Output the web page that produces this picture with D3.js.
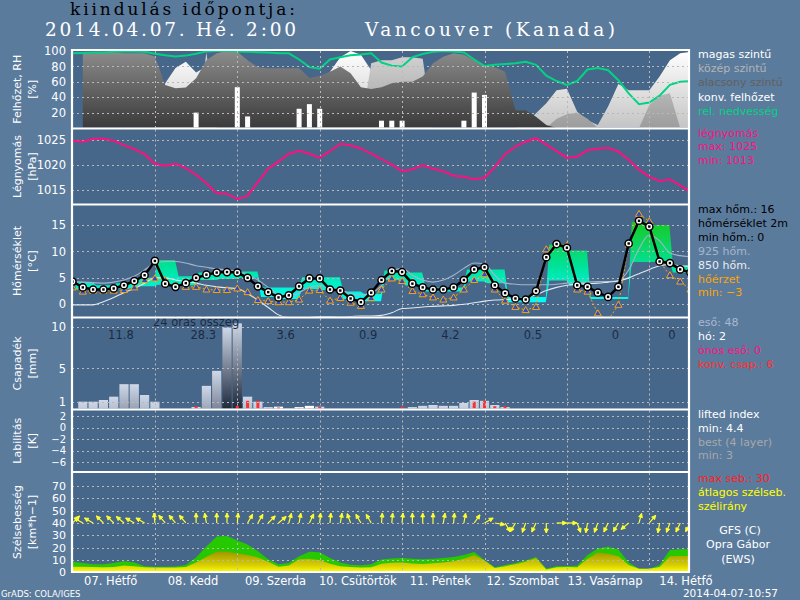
<!DOCTYPE html>
<html><head><meta charset="utf-8">
<script src="https://cdn.jsdelivr.net/npm/d3@7"></script>
<style>body{margin:0;background:#5b7b9d}svg{display:block}</style>
</head><body><svg id="c" width="800" height="600"></svg>
<script>
// ---------------- DATA (3-hourly steps, index 0..60) ----------------
const dayLabels = ["07. Hétfő","08. Kedd","09. Szerda","10. Csütörtök","11. Péntek","12. Szombat","13. Vasárnap","14. Hétfő"];
const cloudLow = [null,97,97,98,98,97,97,97,93,56,51.5,52.5,64.5,88,97,100,99,88,79,77.5,77.5,77.5,77.5,65,67.5,73,80,71,53,50.5,53,58,60,60,67,84,92.6,97,95,88,82,79,73,23,23,14.7,4,0,0,0,0,0,0,0,0,0,0,0,0,0,0];
const cloudMid = [0,0,0,0,0,0,0,0,0,0,0,0,0,98,0,0,0,0,0,0,0,0,0,0,0,0,0,0,0,84,88,88,92,92,90,0,0,0,0,0,0,0,0,0,0,0,0,12,18,20,12,0,0,0,0,0,30,42,45,0,0];
const cloudHigh = [0,0,0,0,0,0,0,0,0,58,78,86,72,80,0,0,0,0,0,0,0,0,0,0,0,73,92,100,95,75,0,0,0,0,0,0,0,0,0,0,0,0,0,0,5,19,32,49,51,21,10,4,28,57,49,49,49,67,88,97,99];
const cloudConv = [0,0,0,0,0,0,0,0,0,0,0,0,20,0,0,0,53,15,0,0,0,0,25,31,25,0,0,0,0,0,9.5,9.5,9.5,0,0,0,0,0,9.5,46,43,0,0,0,0,0,0,0,0,0,0,0,0,0,0,0,0,0,0,0,0];
const relHum = [97,97.5,98,98,99,99.5,99.5,99,96.5,94.5,93,94,96.5,99.5,100,100,99.5,99,98.5,98,97,97,89,79,77,89,92,94.5,95.5,97,85,81,80,92,96,99,100,99.5,98,89,80.5,82,83,84,86,82,68,61,56,61,76,78,75,62,45,31,33,42,56,60,61];
const pressure = [1024.8,1024.6,1025.2,1025.2,1024.8,1023.9,1023.1,1022.1,1020.2,1019.8,1020.2,1019.3,1018,1016.3,1014.3,1014.2,1013.1,1013.8,1016.5,1019.2,1020.6,1022.2,1022.8,1022.2,1021.4,1022.7,1024.2,1023.9,1023.2,1022.2,1021.1,1020,1018.7,1019.1,1019.9,1019.2,1018.7,1017.8,1017.6,1017.1,1017.4,1019.5,1022.1,1023.6,1024.6,1025.3,1024,1022.7,1021.4,1021.6,1022.9,1023.2,1023.4,1022.6,1021,1019,1017.6,1016.7,1017.1,1015.8,1014.6];
const temp2m = [4.3,3.2,2.8,2.8,3.0,3.6,4.4,5.5,8.2,3.9,3.3,4.0,5.0,5.6,6.0,6.1,6.0,5.0,3.4,2.3,1.3,1.7,3.4,4.9,4.9,2.8,2.6,1.1,0.4,2.2,4.6,6.3,6.1,3.9,3.2,2.8,2.8,3.2,4.6,6.6,7.0,3.6,2.1,1.1,0.9,2.5,8.9,11.4,10.7,3.6,3.3,2.2,1.4,3.3,11.5,15.8,14.7,8.1,7.8,6.6,6.0];
const feelsLike = [3.2,2.4,2.6,2.6,2.6,2.7,3.2,4.6,4.9,4.6,3.5,3.3,3.3,2.8,2.7,2.7,3.0,2.3,0.8,0.6,0.4,0.4,0.9,2.6,2.7,0.7,1.2,0.3,-0.3,1.2,2.8,4.9,4.4,2.5,1.9,1.3,0.9,1.3,2.8,4.6,5.7,2.8,0.7,-0.5,-1.1,-0.5,10.4,11.4,11.1,2.8,2.4,-1.7,-3.0,-0.1,11.3,17.1,15.7,8.1,5.5,4.3,2.8];
const temp925 = [4.3,4.2,4.1,4.0,4.2,4.6,5.3,6.5,7.8,8.1,8.1,7.8,7.3,7.0,6.7,6.5,6.3,5.5,4.6,3.2,1.8,1.3,2.2,3.2,3.5,3.2,2.8,2.0,1.8,2.1,3.6,6.2,6.8,5.5,4.6,4.2,4.6,5.5,6.8,7.8,7.6,5.5,4.0,3.8,3.7,3.7,3.7,3.8,4.0,4.1,4.2,4.3,4.3,4.5,6.5,10.5,13.1,12,9.7,9.2,9.0];
const temp850 = [-0.1,-0.1,-0.1,0.5,1.3,2.2,3.0,4.0,5.0,5.0,4.6,4.3,4.0,3.6,3.3,3.1,3.0,2.0,0.8,-0.6,-2.0,-2.5,-2.6,-2.5,-2.3,-2.3,-2.4,-2.3,-2.2,-2.2,-2.1,-1.6,-0.8,-0.7,-0.5,-0.4,-0.3,-0.2,0.0,0.3,0.6,0.8,0.9,1.0,1.2,1.8,2.6,3.2,3.6,3.8,3.9,4.0,4.2,4.4,5.0,5.8,6.6,7.3,7.5,7.3,7.2];
const tMax6 = [4.2,3.6,4.0,5.0,8.4,5.3,6.0,6.2,6.2,3.2,3.2,5.1,5.1,2.4,2.0,6.4,6.0,3.2,3.2,6.6,6.6,1.4,1.4,11.3,10.2,1.4,1.4,15.6,15.0,7.3];
const tMin6 = [2.9,2.7,3.0,3.4,3.7,3.6,4.6,4.8,5.0,1.4,1.0,2.9,2.7,1.0,0.6,4.6,3.6,2.4,2.4,4.3,4.0,0.4,0.4,4.5,3.5,1.0,1.0,8.0,8.0,6.0];
const rain = [0,1.0,1.0,1.2,1.6,3.1,3.1,1.8,1.0,0,0,0,0.36,2.9,4.7,9.9,10.4,1.6,1.0,0.35,0,0.2,0,0,0.4,0.15,0.15,0.15,0.15,0.15,0.15,0.15,0.15,0.35,0.5,0.6,0.5,0.5,0.85,1.2,1.1,0.6,0.35,0,0,0,0,0,0,0,0,0,0,0,0,0,0,0,0,0,0];
const snow = [0,0,0,0,0,0,0,0,0,0,0,0,0,0,0,0,0,0,0,0,0.4,0,0.35,0.5,0,0,0,0,0,0,0,0,0,0,0,0,0,0,0,0,0,0,0,0,0,0,0,0,0,0,0,0,0,0,0,0,0,0,0,0,0];
const convPrecip = [0,0,0,0,0,0,0,0,0,0,0,0,0.45,0,0,0,0.5,1.1,1.1,0.25,0.3,0,0.25,0.2,0.4,0,0,0,0,0,0,0,0.4,0,0,0,0,0,0,1.0,1.1,0.45,0.45,0,0,0,0,0,0,0,0,0,0,0,0,0,0,0,0,0,0];
const precipSum24 = ["11.8","28.3","3.6","0.9","4.2","0.5","0","0"];
const windMax = [8.6,7.5,6.5,6.6,7.5,9.0,8.0,5.0,4.6,4.6,4.8,6,12,21,29,29.5,25.7,22.5,17,10.5,6.5,7.5,13,16.7,16.2,11.5,8,6.2,5.8,6.5,10.3,11.2,11.6,11,10.5,11,11.6,12.5,14,16.5,10,4,6,7.5,9.5,12.5,3,4.9,5.1,5.3,14,19.4,20.8,18.5,8,3,2.9,6,18,18.6,18.8];
const windAvg = [4.6,4.5,4.2,4.1,4.3,5.5,5.0,4.0,3.8,3.8,3.9,4.3,8,12.5,16.7,16.7,15.2,14,12,8.5,4.6,5.5,10.5,10.8,10,7,5,4.2,3.8,4,7,7.7,7.9,7.2,6.8,7.4,7.9,9,11,14,9.6,3.5,5,6.5,8.5,11.5,2.3,4.0,4.2,4.0,11,16,15,13,6,2.8,2.9,4.2,13,13.2,13.2];
const windDir = [45,300,300,315,315,310,300,300,355,320,320,320,0,350,0,0,5,30,30,45,50,15,10,25,5,5,10,340,330,330,5,5,5,0,0,0,10,5,10,35,60,100,150,210,200,205,180,90,90,160,190,200,205,210,230,15,40,190,200,205,210];
const cloudTicks = [20,40,60,80,100];
const presTicks = [1015,1020,1025];
const tempTicks = [0,5,10,15];
const precTicks = [1,5,10];
const liTicks = [2,0,-2,-4,-6];
const windTicks = [0,10,20,30,40,50,60,70];

// ---------------- LAYOUT ----------------
const svg = d3.select("#c");
const L = 72, R = 689;
const OUTER = "#5b7b9d", INNER = "#46678a";
const x = d3.scaleLinear().domain([0, 60]).range([72.5, 690.5]);
const idx = d3.range(61);
const P = {
  cloud:{top:50,bot:128.5,y:d3.scaleLinear().domain([0,100]).range([128,51]),ticks:cloudTicks,t1:"Felhőzet, RH",t2:"[%]",fs:11.5},
  pres:{top:128.5,bot:204.5,y:d3.scaleLinear().domain([1015,1025]).range([189.7,139.7]),ticks:presTicks,t1:"Légnyomás",t2:"[hPa]",fs:11.5},
  temp:{top:204.5,bot:317.5,y:d3.scaleLinear().domain([0,15]).range([304.3,225]),ticks:tempTicks,t1:"Hőmérséklet",t2:"[°C]",fs:11.5},
  prec:{top:317.5,bot:409.5,y:d3.scaleLinear().domain([0,10]).range([410,326.7]),ticks:precTicks,t1:"Csapadék",t2:"[mm]",fs:11.5},
  li:{top:409.5,bot:472,y:d3.scaleLinear().domain([-6,2]).range([462.3,416]),ticks:liTicks,t1:"Labilitás",t2:"[K]",fs:10},
  wind:{top:472,bot:572,y:d3.scaleLinear().domain([0,70]).range([572.3,486]),ticks:windTicks,t1:"Szélsebesség",t2:"[km*h−1]",fs:11}
};
const panels = Object.entries(P);

svg.append("rect").attr("width",800).attr("height",600).attr("fill",OUTER);
svg.append("rect").attr("x",L).attr("y",50).attr("width",R-L).attr("height",522).attr("fill",INNER);

const defs = svg.append("defs");
panels.forEach(([k,p])=>{
  defs.append("clipPath").attr("id","clip-"+k).append("rect")
    .attr("x",L+1).attr("y",p.top+1).attr("width",R-L-2).attr("height",p.bot-p.top-2);
});
function grad(id, y1, y2, stops){
  const g = defs.append("linearGradient").attr("id",id).attr("gradientUnits","userSpaceOnUse")
    .attr("x1",0).attr("x2",0).attr("y1",y1).attr("y2",y2);
  stops.forEach(([o,c])=>g.append("stop").attr("offset",o).attr("stop-color",c));
}
grad("gLow", P.cloud.y(0), P.cloud.y(100), [[0,"#3a3a3a"],[1,"#8c8c8c"]]);
grad("gMid", P.cloud.y(0), P.cloud.y(100), [[0,"#9c9c9c"],[1,"#d4d4d4"]]);
grad("gHigh", P.cloud.y(0), P.cloud.y(100), [[0,"#c4c4c4"],[1,"#ffffff"]]);
grad("gBand", P.temp.y(0), P.temp.y(16), [[0,"#00ffff"],[0.45,"#00e29a"],[1,"#18c81e"]]);
grad("gWind", P.wind.y(0), P.wind.y(16), [[0,"#ffff10"],[0.35,"#d8d000"],[1,"#a49a00"]]);

const layer = k => svg.append("g").attr("clip-path","url(#clip-"+k+")");

// ---------- Cloud panel ----------
const gc = layer("cloud");
const cy = P.cloud.y;
const cloudArea = arr => d3.area().defined(i=>arr[i]!=null).x(i=>x(i)).y0(cy(0)).y1(i=>cy(arr[i]))(idx);
gc.append("path").attr("d",cloudArea(cloudHigh)).attr("fill","url(#gHigh)");
gc.append("path").attr("d",cloudArea(cloudMid)).attr("fill","url(#gMid)");
gc.append("path").attr("d",cloudArea(cloudLow)).attr("fill","url(#gLow)");

// ---------- Temperature band ----------
const gt = layer("temp");
const ty = P.temp.y;
const bandPts = [];
tMax6.forEach((v,k)=>{ bandPts.push({t:2*k+0.3,hi:v,lo:tMin6[k]}); bandPts.push({t:2*k+1.95,hi:v,lo:tMin6[k]}); });
gt.append("path").attr("d",d3.area().x(d=>x(d.t)).y0(d=>ty(d.lo)).y1(d=>ty(d.hi))(bandPts)).attr("fill","url(#gBand)");

// ---------- Precip bars ----------
const gp = layer("prec");
const py = P.prec.y;
idx.forEach(i=>{
  const v = rain[i];
  if(v>0){
    const id="pb"+i;
    const g = defs.append("linearGradient").attr("id",id).attr("x1",0).attr("x2",0).attr("y1",0).attr("y2",1);
    g.append("stop").attr("offset",0).attr("stop-color","#cfd8e8");
    g.append("stop").attr("offset",1).attr("stop-color",d3.interpolateRgb("#cfd8e8","#1a2438")(Math.min(1,v/10)));
    gp.append("rect").attr("x",x(i)-4.6).attr("width",9.2).attr("y",py(v)).attr("height",py(0)-py(v)).attr("fill","url(#"+id+")");
  }
  if(snow[i]>0) gp.append("rect").attr("x",x(i)-4.6).attr("width",9.2).attr("y",py(snow[i])).attr("height",py(0)-py(snow[i])).attr("fill","#ffffff");
});
idx.filter(i=>convPrecip[i]>0).forEach(i=>{
  gp.append("rect").attr("x",x(i)-1.5).attr("width",3).attr("y",py(convPrecip[i])).attr("height",py(0)-py(convPrecip[i])).attr("fill","#ff3030");
});

// ---------- Wind areas ----------
const gw = layer("wind");
const wy = P.wind.y;
gw.append("path").attr("d",d3.area().x(i=>x(i)).y0(wy(0)).y1(i=>wy(windMax[i]))(idx)).attr("fill","#26c800");
gw.append("path").attr("d",d3.area().x(i=>x(i)).y0(wy(0)).y1(i=>wy(windAvg[i]))(idx)).attr("fill","url(#gWind)");

// ---------- Grid ----------
const grid = svg.append("g").attr("stroke","#b8b8b8").attr("stroke-width",1).attr("stroke-dasharray","2,3");
panels.forEach(([k,p])=>{
  p.ticks.forEach(t=>{
    const yy = Math.round(p.y(t))+0.5;
    if(yy>p.top+1.5 && yy<p.bot-1.5) grid.append("line").attr("x1",L).attr("x2",R).attr("y1",yy).attr("y2",yy);
  });
  d3.range(8,60,8).forEach(d=>{
    const xx = Math.round(x(d))+0.5;
    grid.append("line").attr("x1",xx).attr("x2",xx).attr("y1",p.top+1).attr("y2",p.bot-1);
  });
});

// ---------- Convective cloud bars, RH ----------
idx.filter(i=>cloudConv[i]>0).forEach(i=>{
  gc.append("rect").attr("x",x(i)-2.5).attr("width",5).attr("y",cy(cloudConv[i])).attr("height",cy(0)-cy(cloudConv[i])).attr("fill","#ffffff");
});
gc.append("path").attr("d",d3.line().x(i=>x(i)).y(i=>cy(relHum[i]))(idx)).attr("fill","none").attr("stroke","#00d484").attr("stroke-width",2);

// ---------- Pressure ----------
layer("pres").append("path").attr("d",d3.line().x(i=>x(i)).y(i=>P.pres.y(pressure[i]))(idx))
  .attr("fill","none").attr("stroke","#ff1080").attr("stroke-width",2);

// ---------- Temperature lines ----------
const gt2 = layer("temp");
const tline = arr => d3.line().curve(d3.curveMonotoneX).x(i=>x(i)).y(i=>ty(arr[i]))(idx);
gt2.append("path").attr("d",tline(temp925)).attr("fill","none").attr("stroke","#a4b4cc").attr("stroke-width",1.1);
gt2.append("path").attr("d",tline(temp850)).attr("fill","none").attr("stroke","#e4e8ee").attr("stroke-width",1.1);
gt2.append("path").attr("d",d3.line().x(i=>x(i)).y(i=>ty(feelsLike[i]))(idx)).attr("fill","none").attr("stroke","#ffa500").attr("stroke-width",1).attr("stroke-dasharray","2,2");
idx.forEach(i=>{
  const X=x(i), Y=ty(feelsLike[i]);
  gt2.append("path").attr("d",`M${X},${Y-3.5}L${X+3.5},${Y+2.5}L${X-3.5},${Y+2.5}Z`).attr("fill","#2a4cd0").attr("stroke","#ffa500").attr("stroke-width",1);
});
gt2.append("path").attr("d",d3.line().x(i=>x(i)).y(i=>ty(temp2m[i]))(idx)).attr("fill","none").attr("stroke","#000").attr("stroke-width",2.5);
idx.forEach(i=>{
  gt2.append("circle").attr("cx",x(i)).attr("cy",ty(temp2m[i])).attr("r",3.6).attr("fill","#fff").attr("stroke","#000").attr("stroke-width",1.5);
  gt2.append("rect").attr("x",x(i)-1.2).attr("y",ty(temp2m[i])-1.2).attr("width",2.4).attr("height",2.4).attr("fill","#000");
});

// ---------- Precip sum labels ----------
const gpl = svg.append("g").attr("font-family","DejaVu Sans, sans-serif").attr("fill","#1c2b42");
gpl.append("text").attr("x",x(12)).attr("y",326).attr("text-anchor","middle").attr("font-size",11.5).text("24 órás összeg");
precipSum24.forEach((s,k)=>{
  gpl.append("text").attr("x",x(Math.min(4.7+8*k,58.2))).attr("y",339).attr("text-anchor","middle").attr("font-size",11.5).text(s);
});

// ---------- Wind arrows ----------
const ga = layer("wind").attr("stroke","#ffff30").attr("fill","#ffff30").attr("stroke-width",1.2);
idx.forEach(i=>{
  const a = windDir[i]*Math.PI/180, len=10;
  const dx=Math.sin(a), dy=-Math.cos(a);
  const x0=x(i), y0=wy(40), x1=x0+dx*len, y1=y0+dy*len;
  const h=4, w=2;
  const bx=x1-dx*h, by=y1-dy*h;
  ga.append("path").attr("d",`M${x0},${y0}L${x1},${y1}`);
  ga.append("path").attr("stroke-width",0.8).attr("d",`M${x1},${y1}L${bx-dy*w},${by+dx*w}L${bx+dy*w},${by-dx*w}Z`);
});

// ---------- Frame ----------
const fr = svg.append("g").attr("stroke","#fff").attr("stroke-width",2.2);
[50,128.5,204.5,317.5,409.5,472,572].forEach(yy=>fr.append("line").attr("x1",L-1).attr("x2",R+1).attr("y1",yy).attr("y2",yy));
fr.append("line").attr("x1",L).attr("x2",L).attr("y1",49).attr("y2",573);
fr.append("line").attr("x1",R).attr("x2",R).attr("y1",49).attr("y2",573);

// ---------- Axes ----------
panels.forEach(([k,p])=>{
  const ax = svg.append("g").attr("transform","translate(66,0)")
    .call(d3.axisLeft(p.y).tickValues(p.ticks).tickSize(0).tickPadding(0).tickFormat(d3.format("d")));
  ax.select(".domain").remove();
  ax.selectAll("text").attr("fill","#fff").attr("font-family","DejaVu Sans, sans-serif").attr("font-size",p.fs);
  const mid=(p.top+p.bot)/2;
  const tt = svg.append("g").attr("fill","#fff").attr("font-family","DejaVu Sans, sans-serif").attr("font-size",11).attr("text-anchor","middle");
  tt.append("text").attr("transform",`translate(20.5,${mid}) rotate(-90)`).text(p.t1);
  tt.append("text").attr("transform",`translate(36,${mid}) rotate(-90)`).text(p.t2);
});

// ---------- Day labels ----------
const gd = svg.append("g").attr("fill","#fff").attr("font-family","DejaVu Sans, sans-serif").attr("font-size",11.5).attr("text-anchor","middle");
dayLabels.forEach((s,k)=>gd.append("text").attr("x",Math.min(x(4+8*k)-3,686)).attr("y",585).text(s));

// ---------- Titles ----------
svg.append("text").attr("x",70).attr("y",15).attr("font-family","DejaVu Serif, serif").attr("font-size",17)
  .attr("textLength",225).attr("lengthAdjust","spacing").attr("fill","#000").text("kiindulás időpontja:");
svg.append("text").attr("x",45).attr("y",36).attr("font-family","DejaVu Serif, serif").attr("font-size",18.5)
  .attr("textLength",251).attr("lengthAdjust","spacing").attr("fill","#fff").text("2014.04.07. Hé. 2:00");
svg.append("text").attr("x",365).attr("y",36).attr("font-family","DejaVu Serif, serif").attr("font-size",18.5)
  .attr("textLength",250).attr("lengthAdjust","spacing").attr("fill","#fff").text("Vancouver (Kanada)");

// ---------- Right legends ----------
const legends = [
  {y:58, items:[["magas szintű","#ffffff"],["közép szintű","#b4b4b4"],["alacsony szintű","#606060"],["konv. felhőzet","#ffffff"],["rel. nedvesség","#00d484"]]},
  {y:136.5, step:13.5, items:[["légnyomás","#ff1080"],["max: 1025","#ff1080"],["min: 1013","#ff1080"]]},
  {y:213, step:13.9, items:[["max hőm.: 16","#000"],["hőmérséklet 2m","#000"],["min hőm.: 0","#000"],["925 hőm.","#a4b4cc"],["850 hőm.","#e8ecf0"],["hőérzet","#ffa500"],["min: −3","#ffa500"]]},
  {y:325.7, items:[["eső: 48","#a8b8d0"],["hó: 2","#ffffff"],["ónos eső: 0","#ff1080"],["konv. csap.: 6","#ff3030"]]},
  {y:418.3, step:13.7, items:[["lifted index","#ffffff"],["min: 4.4","#ffffff"],["best (4 layer)","#a8a8a8"],["min: 3","#a8a8a8"]]},
  {y:481.7, items:[["max seb.: 30","#ff2020"],["átlagos szélseb.","#ffff00"],["szélirány","#ffff00"]]}
];
const gl = svg.append("g").attr("font-family","DejaVu Sans, sans-serif").attr("font-size",11);
legends.forEach(g=>g.items.forEach(([t,c],j)=>gl.append("text").attr("x",698).attr("y",g.y+j*(g.step||14.2)).attr("fill",c).text(t)));
const gf = svg.append("g").attr("font-family","DejaVu Sans, sans-serif").attr("font-size",11).attr("fill","#fff").attr("text-anchor","middle");
gf.append("text").attr("x",740).attr("y",534).text("GFS (C)");
gf.append("text").attr("x",738).attr("y",548).text("Opra Gábor");
gf.append("text").attr("x",738).attr("y",563).text("(EWS)");

svg.append("text").attr("x",1).attr("y",597).attr("font-family","DejaVu Sans, sans-serif").attr("font-size",8.5).attr("fill","#fff").text("GrADS: COLA/IGES");
svg.append("text").attr("x",778).attr("y",597).attr("text-anchor","end").attr("font-family","DejaVu Sans, sans-serif").attr("font-size",10.5).attr("fill","#fff").text("2014-04-07-10:57");
</script></body></html>
